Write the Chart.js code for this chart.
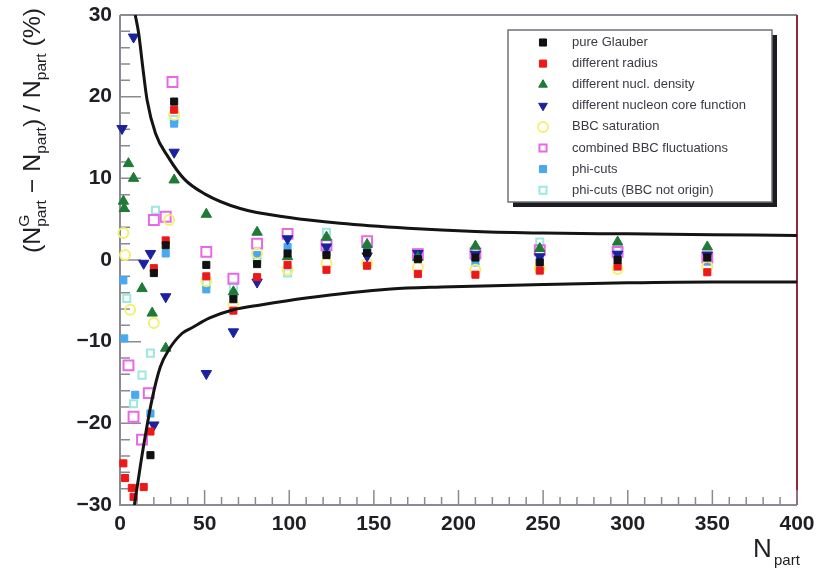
<!DOCTYPE html>
<html>
<head>
<meta charset="utf-8">
<script src="https://cdn.jsdelivr.net/npm/chart.js@4.4.1/dist/chart.umd.min.js"></script>
<style>
  html, body { margin: 0; padding: 0; background: #fff; }
  #wrap { width: 827px; height: 568px; }
</style>
</head>
<body>
<div id="wrap"><canvas id="chart" width="827" height="568"></canvas></div>
<script>
// axis ticks
const xTicks = [0, 50, 100, 150, 200, 250, 300, 350, 400];
const yTicks = [-30, -20, -10, 0, 10, 20, 30];

// legend labels
const seriesNames = [
    'pure Glauber',
    'different radius',
    'different nucl. density',
    'different nucleon core function',
    'BBC saturation',
    'combined BBC fluctuations',
    'phi-cuts',
    'phi-cuts (BBC not origin)'
];

// [Npart, deviation %]
const pureGlauber = [[18,-23.9],[20,-1.6],[27,1.8],[32,19.4],[51,-0.6],[67,-4.8],[81,-0.5],[99,0.8],[122,0.6],[146,0.9],[176,0.1],[210,0.3],[248,-0.3],[294,0.0],[347,0.3]];
const diffRadius = [[2,-24.9],[3,-26.7],[7,-27.9],[8,-29],[14,-27.8],[18,-21],[20,-1.0],[27,2.4],[32,18.4],[51,-2.0],[67,-6.2],[81,-2.1],[99,-0.6],[122,-1.2],[146,-0.7],[176,-1.7],[210,-1.8],[248,-1.3],[294,-0.8],[347,-1.5]];
const diffDensity = [[2,7.2],[2.5,6.3],[5,11.8],[8,10],[13,-3.5],[19,-6.5],[27,-10.8],[32,9.8],[51,5.6],[67,-3.9],[81,3.4],[99,0.4],[122,2.8],[146,1.9],[176,0.3],[210,1.7],[248,1.4],[294,2.2],[347,1.6]];
const diffCore = [[1.2,16.1],[8,27.3],[14,-0.4],[18,0.8],[20,-20.2],[27,-4.5],[32,13.2],[51,-13.9],[67,-8.8],[81,-2.7],[99,2.6],[122,1.6],[146,0.5],[176,0.8],[210,0.7],[248,0.4],[294,0.7],[347,0.6]];
const bbcSaturation = [[2,3.3],[3,0.6],[6,-6.1],[20,-7.7],[29,4.9],[32,17.8],[51,-2.6],[67,-5.5],[81,0.8],[99,-1.2],[122,-0.4],[146,-0.4],[176,-0.9],[210,-1.2],[248,-1.0],[294,-1.1],[347,-0.8]];
const bbcFluct = [[5,-12.9],[8,-19.2],[13,-22],[17,-16.3],[20,4.9],[27,5.3],[31,21.8],[51,1.0],[67,-2.3],[81,2.0],[99,3.2],[122,1.8],[146,2.3],[176,0.7],[210,0.8],[248,1.2],[294,1.0],[347,0.3]];
const phiCuts = [[2,-2.5],[2.5,-9.6],[9,-16.5],[18,-18.8],[27,0.8],[32,16.7],[51,-3.6],[67,-4.2],[81,0.6],[99,1.6],[122,0.9],[146,1.2],[176,0.3],[210,-0.3],[248,-0.1],[294,0.5],[347,-0.2]];
const phiCutsOff = [[4,-4.7],[8,-17.6],[13,-14.1],[18,-11.4],[21,6.1],[32,17.2],[51,-2.8],[67,-3.2],[81,0.2],[99,-1.6],[122,3.4],[146,1.6],[176,0.9],[210,1.2],[248,2.2],[294,1.5],[347,0.2]];

// envelope curves
const upperBand = [[9,30],[11,27.8],[13.4,23.7],[16,19.6],[21,15.5],[28.5,12.6],[38,9.9],[50,8.1],[71,6.3],[100,5.2],[130,4.5],[170,3.9],[210,3.5],[250,3.3],[300,3.2],[350,3.1],[400,3.0]];
const lowerBand = [[8.5,-30],[10.5,-27.3],[13.5,-23.3],[18.9,-17.1],[23.8,-13.1],[28.8,-11],[36.6,-9],[42.5,-8.3],[53,-7.1],[67,-6.1],[83,-5.5],[110,-4.65],[160,-3.55],[190,-3.3],[250,-3.0],[300,-2.8],[350,-2.7],[400,-2.7]];

const styles = [
    { pointStyle: 'rect', radius: 5, fill: '#111111', border: '#111111', bw: 1, rot: 0 },
    { pointStyle: 'rect', radius: 5, fill: '#ee1818', border: '#ee1818', bw: 1, rot: 0 },
    { pointStyle: 'triangle', radius: 6, fill: '#1f7a35', border: '#1f7a35', bw: 1, rot: 0 },
    { pointStyle: 'triangle', radius: 6, fill: '#1a22a0', border: '#1a22a0', bw: 1, rot: 180 },
    { pointStyle: 'circle', radius: 5, fill: 'rgba(255,255,255,0)', border: '#f4f070', bw: 2, rot: 0 },
    { pointStyle: 'rect', radius: 7, fill: 'rgba(255,255,255,0)', border: '#e868e8', bw: 2, rot: 0 },
    { pointStyle: 'rect', radius: 5, fill: '#48a8f0', border: '#48a8f0', bw: 1, rot: 0 },
    { pointStyle: 'rect', radius: 5, fill: 'rgba(255,255,255,0)', border: '#9ee8e0', bw: 2, rot: 0 }
];

const seriesData = [pureGlauber, diffRadius, diffDensity, diffCore, bbcSaturation, bbcFluct, phiCuts, phiCutsOff];

function toPoints(arr) {
    return arr.map(p => ({ x: p[0], y: p[1] }));
}

const datasets = seriesData.map((d, i) => ({
    label: seriesNames[i],
    data: toPoints(d),
    showLine: false,
    pointStyle: styles[i].pointStyle,
    pointRadius: styles[i].radius,
    pointRotation: styles[i].rot,
    pointBackgroundColor: styles[i].fill,
    pointBorderColor: styles[i].border,
    pointBorderWidth: styles[i].bw,
    clip: false,
    order: 2
}));

[upperBand, lowerBand].forEach(band => {
    datasets.push({
        label: '',
        data: toPoints(band),
        showLine: true,
        borderColor: '#141414',
        borderWidth: 3,
        pointRadius: 0,
        cubicInterpolationMode: 'monotone',
        order: 1
    });
});

// draw text made of normal / sup / sub pieces, returns width
function richText(ctx, parts, x, y, big, small, draw) {
    let cx = x;
    parts.forEach(p => {
        if (p.stack) {
            ctx.font = small;
            const w = Math.max(ctx.measureText(p.sup).width, ctx.measureText(p.sub).width);
            if (draw) {
                ctx.fillText(p.sup, cx, y - 11);
                ctx.fillText(p.sub, cx, y + 6);
            }
            cx += w;
        } else {
            ctx.font = p.sub ? small : big;
            if (draw) ctx.fillText(p.t, cx, p.sub ? y + 6 : y);
            cx += ctx.measureText(p.t).width;
        }
    });
    return cx - x;
}

const axesPlugin = {
    id: 'rootAxes',
    beforeDatasetsDraw(chart) {
        const ctx = chart.ctx;
        const a = chart.chartArea;
        const xs = chart.scales.x, ys = chart.scales.y;
        ctx.save();
        // frame
        ctx.lineWidth = 2;
        ctx.strokeStyle = '#8a8a92';
        ctx.beginPath();
        ctx.moveTo(a.left, a.top);
        ctx.lineTo(a.right, a.top);
        ctx.moveTo(a.left, a.top);
        ctx.lineTo(a.left, a.bottom);
        ctx.lineTo(a.right, a.bottom);
        ctx.stroke();
        ctx.strokeStyle = '#8e2a3a';
        ctx.beginPath();
        ctx.moveTo(a.right, a.top);
        ctx.lineTo(a.right, a.bottom);
        ctx.stroke();

        // ticks inside the frame
        ctx.strokeStyle = '#8a8a92';
        ctx.lineWidth = 1.5;
        ctx.beginPath();
        for (let v = 0; v <= 400; v += 10) {
            const px = xs.getPixelForValue(v);
            const len = v % 50 === 0 ? 15 : 8;
            ctx.moveTo(px, a.bottom);
            ctx.lineTo(px, a.bottom - len);
        }
        for (let v = -30; v <= 30; v += 2) {
            const py = ys.getPixelForValue(v);
            const len = v % 10 === 0 ? 21 : 10;
            ctx.moveTo(a.left, py);
            ctx.lineTo(a.left + len, py);
        }
        ctx.stroke();
        ctx.restore();
    },
    afterDraw(chart) {
        const ctx = chart.ctx;
        const xs = chart.scales.x, ys = chart.scales.y;
        ctx.save();
        ctx.fillStyle = '#1e1e24';
        ctx.font = 'bold 21px "Liberation Sans", Arial, sans-serif';
        ctx.textAlign = 'right';
        ctx.textBaseline = 'middle';
        yTicks.forEach(v => {
            ctx.fillText(String(v).replace('-', '\u2212'), 112, ys.getPixelForValue(v));
        });
        ctx.textAlign = 'center';
        ctx.textBaseline = 'top';
        xTicks.forEach(v => {
            ctx.fillText(String(v), xs.getPixelForValue(v), 514);
        });

        // x title
        ctx.textAlign = 'left';
        ctx.textBaseline = 'alphabetic';
        ctx.font = '26px "Liberation Sans", Arial, sans-serif';
        ctx.fillText('N', 753, 557);
        ctx.font = '15px "Liberation Sans", Arial, sans-serif';
        ctx.fillText('part', 774, 565);

        // y title, rotated
        const big = '24px "Liberation Sans", Arial, sans-serif';
        const small = '15px "Liberation Sans", Arial, sans-serif';
        const parts = [
            { t: '(N' }, { stack: true, sup: 'G', sub: 'part' },
            { t: ' \u2212 N' }, { t: 'part', sub: true },
            { t: ') / N' }, { t: 'part', sub: true },
            { t: ' (%)' }
        ];
        const w = richText(ctx, parts, 0, 0, big, small, false);
        const target = 245;
        ctx.translate(40, 253);
        ctx.rotate(-Math.PI / 2);
        ctx.scale(target / w, 1);
        richText(ctx, parts, 0, 0, big, small, true);
        ctx.restore();

        // legend box
        ctx.save();
        const lx = 508, ly = 30, lw = 264, lh = 172;
        ctx.fillStyle = '#1c1c22';
        ctx.fillRect(lx + 5, ly + 5, lw, lh);
        ctx.fillStyle = '#ffffff';
        ctx.fillRect(lx, ly, lw, lh);
        ctx.strokeStyle = '#70707a';
        ctx.lineWidth = 1.5;
        ctx.strokeRect(lx, ly, lw, lh);
        ctx.font = '13px "Liberation Sans", Arial, sans-serif';
        ctx.textAlign = 'left';
        ctx.textBaseline = 'middle';
        seriesNames.forEach((name, i) => {
            const yy = 42.5 + i * 21.1;
            const s = styles[i];
            ctx.fillStyle = s.fill;
            ctx.strokeStyle = s.border;
            ctx.lineWidth = s.bw;
            Chart.helpers.drawPoint(ctx, {
                pointStyle: s.pointStyle,
                radius: Math.min(s.radius, 5),
                rotation: s.rot,
                borderWidth: s.bw
            }, 543, yy);
            ctx.fillStyle = '#3a3a44';
            ctx.fillText(name, 572, yy);
        });
        ctx.restore();
    }
};

new Chart(document.getElementById('chart'), {
    type: 'scatter',
    data: { datasets: datasets },
    options: {
        responsive: false,
        devicePixelRatio: 1,
        animation: false,
        layout: { padding: { left: 120, top: 15, right: 30, bottom: 63 } },
        plugins: {
            legend: { display: false },
            tooltip: { enabled: false }
        },
        scales: {
            x: { type: 'linear', min: 0, max: 400, display: false },
            y: { type: 'linear', min: -30, max: 30, display: false }
        }
    },
    plugins: [axesPlugin]
});
</script>
</body>
</html>
